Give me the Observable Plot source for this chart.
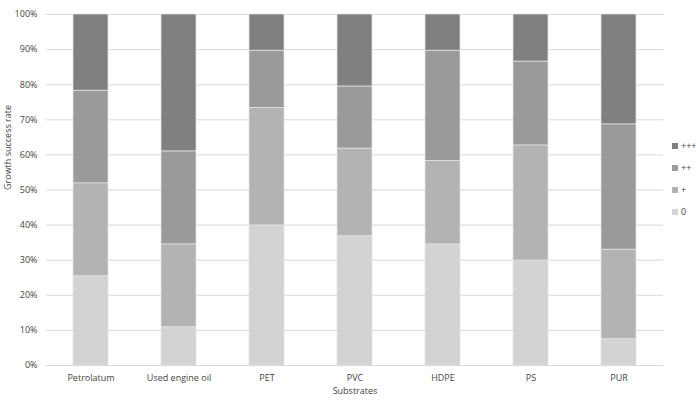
<!DOCTYPE html>
<html>
<head>
<meta charset="utf-8">
<script src="https://cdn.jsdelivr.net/npm/d3@7"></script>
<script src="https://cdn.jsdelivr.net/npm/@observablehq/plot@0.6"></script>
<style>
  body { margin: 0; background: #fff; }
  #wrap { position: relative; width: 696px; height: 408px; font-family: "Open Sans", sans-serif; }
  .leg { position: absolute; left: 672px; font-size: 9px; color: #444; display: flex; align-items: center; line-height: 1; }
  .leg span.sw { display: inline-block; width: 6px; height: 6px; margin-right: 3px; }
</style>
</head>
<body>
<div id="wrap"></div>
<script>
const substrates = ["Petrolatum", "Used engine oil", "PET", "PVC", "HDPE", "PS", "PUR"];
const levels = ["0", "+", "++", "+++"];
const v0    = [25.4, 10.9, 39.9, 36.8, 34.5, 29.9, 7.5];
const vPlus = [26.5, 23.6, 33.5, 25.0, 23.8, 32.8, 25.5];
const v2    = [26.4, 26.5, 16.3, 17.7, 31.4, 23.9, 35.7];
const v3    = [21.7, 39.0, 10.3, 20.5, 10.3, 13.4, 31.3];
const colors = ["#d3d3d3", "#b3b3b3", "#9a9a9a", "#808080"];
const yTicks = [0, 10, 20, 30, 40, 50, 60, 70, 80, 90, 100];

const series = [v0, vPlus, v2, v3];
const data = [];
levels.forEach((lvl, i) => substrates.forEach((s, j) => data.push({substrate: s, level: lvl, value: series[i][j]})));

const chart = Plot.plot({
  width: 696,
  height: 408,
  marginLeft: 46,
  marginRight: 33,
  marginTop: 14,
  marginBottom: 43,
  style: {fontFamily: "Open Sans, sans-serif", fontSize: "9px", color: "#444"},
  x: {domain: substrates, paddingInner: 0.6, paddingOuter: 0.3, label: null, tickSize: 0, tickPadding: 9},
  y: {domain: [0, 100], ticks: yTicks, tickFormat: d => d + "%", tickSize: 0, tickPadding: 9, label: null},
  color: {domain: levels, range: colors},
  marks: [
    Plot.gridY(yTicks, {stroke: "#d9d9d9", strokeOpacity: 1, strokeWidth: 1}),
    Plot.barY(data, {x: "substrate", y: "value", fill: "level", order: levels, stroke: "#e6e6e6", strokeWidth: 0.7}),
    Plot.ruleY([0], {stroke: "#d9d9d9"}),
    Plot.text(["Substrates"], {frameAnchor: "bottom", dy: 28, fontSize: 9, fill: "#444"}),
    Plot.text(["Growth success rate"], {frameAnchor: "left", dx: -38, rotate: -90, fontSize: 9, fill: "#444"})
  ]
});
const wrap = document.getElementById("wrap");
wrap.appendChild(chart);

const legendY = {"+++": 146, "++": 168, "+": 190, "0": 212};
[...levels].reverse().forEach(lvl => {
  const d = document.createElement("div");
  d.className = "leg";
  d.style.top = (legendY[lvl] - 5) + "px";
  const sw = document.createElement("span");
  sw.className = "sw";
  sw.style.background = colors[levels.indexOf(lvl)];
  d.appendChild(sw);
  d.appendChild(document.createTextNode(lvl));
  wrap.appendChild(d);
});
</script>
</body>
</html>
